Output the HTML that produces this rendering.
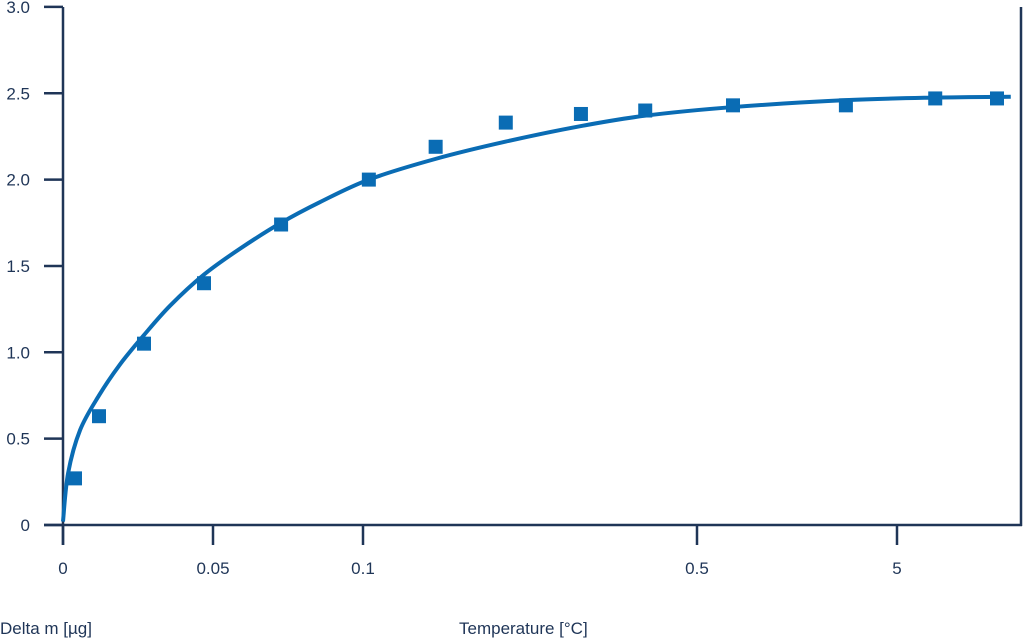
<!DOCTYPE html>
<html><head><meta charset="utf-8"><style>
body{margin:0;background:#fff;width:1024px;height:638px;overflow:hidden}
text{font-family:"Liberation Sans",sans-serif;fill:#1f3557}
</style></head><body>
<svg id="chart" width="1024" height="638" xmlns="http://www.w3.org/2000/svg">
<g id="axes"></g>
<g id="curve"></g>
<g id="pts"></g>
<text x="0" y="634" font-size="17">Delta m [µg]</text>
<text x="459" y="634" font-size="17">Temperature [°C]</text>
</svg>
<script>
const xTickVals=[0,0.05,0.1,0.5,5];
const xTickLabels=["0","0.05","0.1","0.5","5"];
const yTickVals=[0,0.5,1,1.5,2,2.5,3];
const yTickLabels=["0","0.5","1.0","1.5","2.0","2.5","3.0"];
const ptX=[0.004,0.012,0.027,0.047,0.0727,0.107,0.187,0.271,0.361,0.438,1.31,3.85,5.86,7.25];
const ptY=[0.27,0.63,1.05,1.40,1.74,2.00,2.19,2.33,2.38,2.40,2.43,2.43,2.47,2.47];
const curveX=[0,0.0017,0.0057,0.012,0.019,0.027,0.0357,0.047,0.059,0.0727,0.0857,0.107,0.187,0.271,0.361,0.438,1.31,3.85,5.86,7.56];
const curveY=[0.02,0.3,0.55,0.75,0.93,1.1,1.27,1.45,1.6,1.75,1.87,2.0,2.12,2.22,2.31,2.37,2.42,2.46,2.475,2.48];
const xPix=[63,213,363,697,897];
function xs(v){
  for(let i=0;i<xTickVals.length-1;i++){
    if(v<=xTickVals[i+1]) return xPix[i]+(v-xTickVals[i])/(xTickVals[i+1]-xTickVals[i])*(xPix[i+1]-xPix[i]);
  }
  const n=xTickVals.length-1;
  return xPix[n]+(v-xTickVals[n])/(xTickVals[n]-xTickVals[n-1])*(xPix[n]-xPix[n-1]);
}
function ys(v){return 525-v*172.7;}
const NS="http://www.w3.org/2000/svg";
function mk(t,a,p){const e=document.createElementNS(NS,t);for(const k in a)e.setAttribute(k,a[k]);p.appendChild(e);return e;}
const ax=document.getElementById('axes');
const C="#1f3557";
let l=mk('line',{x1:63,y1:7,x2:63,y2:545,stroke:C,'stroke-width':2.5},ax);

l=mk('line',{x1:44,y1:525,x2:1022,y2:525,stroke:C,'stroke-width':2.5},ax);

l=mk('line',{x1:1021,y1:7,x2:1021,y2:526,stroke:C,'stroke-width':2.5},ax);

yTickVals.forEach((v,i)=>{
  const y=ys(v);
  const t=mk('line',{x1:44,y1:y,x2:63,y2:y,stroke:C,'stroke-width':2.5},ax);
  
  const tx=mk('text',{x:30,y:y+6,'font-size':17,'text-anchor':'end'},ax);
  tx.textContent=yTickLabels[i];
  
});
xTickVals.forEach((v,i)=>{
  const x=xs(v);
  const t=mk('line',{x1:x,y1:525,x2:x,y2:545,stroke:C,'stroke-width':2.5},ax);
  
  const tx=mk('text',{x:x,y:574,'font-size':17,'text-anchor':'middle'},ax);
  tx.textContent=xTickLabels[i];
  
});
const pts=curveX.map((v,i)=>[xs(v),ys(curveY[i])]);
let d="M"+pts[0][0]+","+pts[0][1];
for(let i=1;i<pts.length;i++){
  const p0=pts[Math.max(0,i-2)],p1=pts[i-1],p2=pts[i],p3=pts[Math.min(pts.length-1,i+1)];
  const c1=[p1[0]+(p2[0]-p0[0])/6,p1[1]+(p2[1]-p0[1])/6];
  const c2=[p2[0]-(p3[0]-p1[0])/6,p2[1]-(p3[1]-p1[1])/6];
  d+=` C${c1[0]},${c1[1]} ${c2[0]},${c2[1]} ${p2[0]},${p2[1]}`;
}
const cp=mk('path',{d:d,fill:'none',stroke:'#0a6cb4','stroke-width':4},document.getElementById('curve'));

const pg=document.getElementById('pts');
ptX.forEach((v,i)=>{
  const r=mk('rect',{x:xs(v)-7,y:ys(ptY[i])-7,width:14,height:14,fill:'#0a6cb4'},pg);
  
});
</script>
</body></html>
